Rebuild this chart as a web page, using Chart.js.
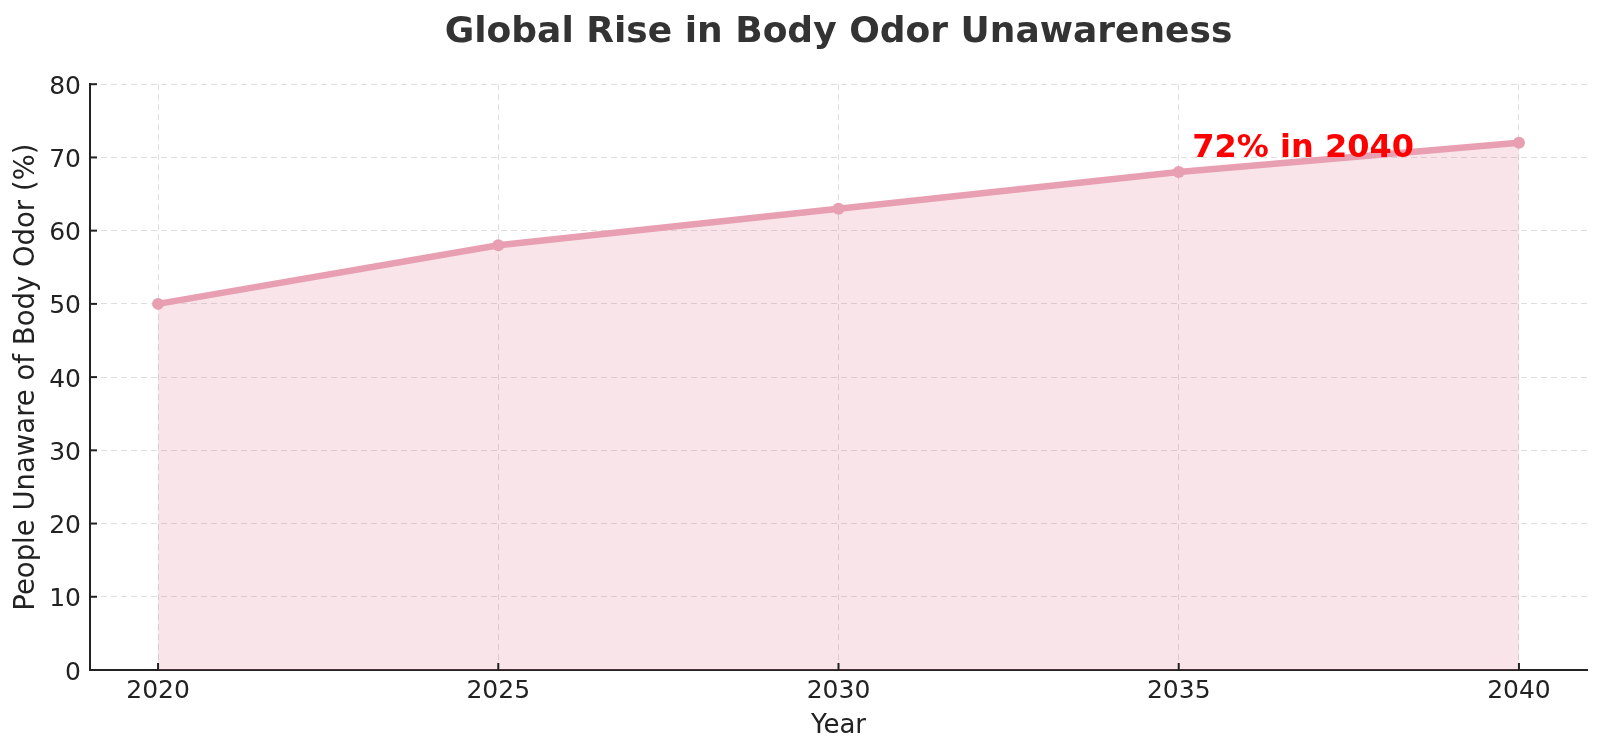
<!DOCTYPE html>
<html>
<head>
<meta charset="utf-8">
<title>Global Rise in Body Odor Unawareness</title>
<script src="https://cdn.jsdelivr.net/npm/chart.js@4.4.1/dist/chart.umd.min.js"></script>
<style>
    html, body { margin: 0; padding: 0; background: #ffffff; }
    #wrap { width: 1600px; height: 753px; }
</style>
</head>
<body>
<div id="wrap"><canvas id="chart" width="1600" height="753"></canvas></div>
<script>
// values
const years = [2020, 2025, 2030, 2035, 2040];
const unawarePct = [50, 58, 63, 68, 72];
const yTicks = [0, 10, 20, 30, 40, 50, 60, 70, 80];
const xRange = [2019, 2041];
const noteText = '72% in 2040';
const noteYear = 2035.2;
const noteValue = 70;

const lineColor = '#e89fb1';
const fillColor = 'rgba(222, 120, 145, 0.2)';
const axisColor = '#222222';
const gridColor = '#dedede';

Chart.defaults.font.family = "'DejaVu Sans', sans-serif";
Chart.defaults.color = '#222222';

// matplotlib style ticks pointing into the plot + the red note
const extrasPlugin = {
    id: 'extras',
    afterDraw(chart) {
        const ctx = chart.ctx;
        const x = chart.scales.x;
        const y = chart.scales.y;
        const area = chart.chartArea;

        ctx.save();
        ctx.strokeStyle = axisColor;
        ctx.lineWidth = 2;
        x.ticks.forEach((t) => {
            const px = x.getPixelForValue(t.value);
            ctx.beginPath();
            ctx.moveTo(px, area.bottom);
            ctx.lineTo(px, area.bottom - 7);
            ctx.stroke();
        });
        y.ticks.forEach((t) => {
            const py = y.getPixelForValue(t.value);
            ctx.beginPath();
            ctx.moveTo(area.left, py);
            ctx.lineTo(area.left + 7, py);
            ctx.stroke();
        });

        ctx.fillStyle = '#ff0000';
        ctx.font = "bold 32px 'DejaVu Sans', sans-serif";
        ctx.textAlign = 'left';
        ctx.textBaseline = 'alphabetic';
        ctx.fillText(noteText, x.getPixelForValue(noteYear), y.getPixelForValue(noteValue));
        ctx.restore();
    }
};

const chart = new Chart(document.getElementById('chart'), {
    type: 'line',
    data: {
        datasets: [{
            label: 'People Unaware of Body Odor (%)',
            data: years.map((yr, i) => ({ x: yr, y: unawarePct[i] })),
            borderColor: lineColor,
            backgroundColor: fillColor,
            borderWidth: 6.5,
            pointRadius: 6,
            pointBorderWidth: 0,
            pointBackgroundColor: lineColor,
            fill: 'origin',
            tension: 0
        }]
    },
    options: {
        responsive: false,
        animation: false,
        devicePixelRatio: 1,
        layout: { padding: { left: 0, right: 13, top: 0, bottom: 0 } },
        plugins: {
            legend: { display: false },
            tooltip: { enabled: false },
            title: {
                display: true,
                text: 'Global Rise in Body Odor Unawareness',
                fullSize: false,
                color: '#333333',
                font: { size: 36, weight: 'bold' },
                padding: { top: 11.5, bottom: 29.5 }
            }
        },
        scales: {
            x: {
                type: 'linear',
                min: xRange[0],
                max: xRange[1],
                afterBuildTicks: (s) => { s.ticks = years.map((v) => ({ value: v })); },
                afterFit: (s) => { s.height = 83; },
                ticks: {
                    padding: 6,
                    font: { size: 25 },
                    color: '#222222',
                    callback: (v) => String(v)
                },
                grid: { color: gridColor, lineWidth: 1, drawTicks: false, tickLength: 0 },
                border: { display: true, color: axisColor, width: 2, dash: [6, 4] },
                title: {
                    display: true,
                    text: 'Year',
                    font: { size: 26 },
                    color: '#222222',
                    padding: { top: 0, bottom: 11 }
                }
            },
            y: {
                min: 0,
                max: 80,
                afterBuildTicks: (s) => { s.ticks = yTicks.map((v) => ({ value: v })); },
                afterFit: (s) => { s.width = 90; },
                ticks: {
                    padding: 9,
                    labelOffset: 3,
                    font: { size: 25 },
                    color: '#222222'
                },
                grid: { color: gridColor, lineWidth: 1, drawTicks: false, tickLength: 0 },
                border: { display: true, color: axisColor, width: 2, dash: [6, 4] },
                title: {
                    display: true,
                    text: 'People Unaware of Body Odor (%)',
                    font: { size: 27.5 },
                    color: '#222222',
                    padding: { top: 10, bottom: 0 }
                }
            }
        }
    },
    plugins: [extrasPlugin]
});
</script>
</body>
</html>
